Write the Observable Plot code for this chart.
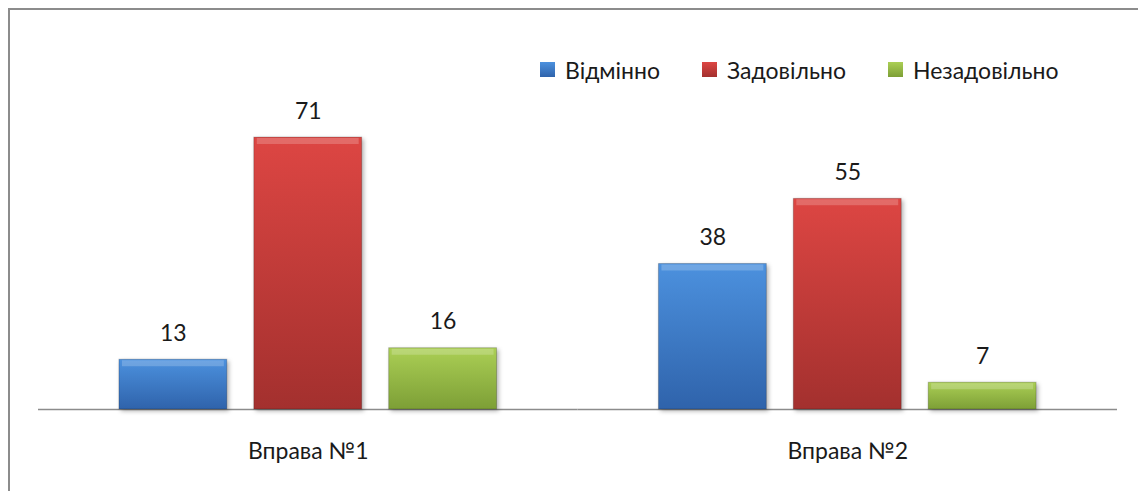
<!DOCTYPE html>
<html>
<head>
<meta charset="utf-8">
<script src="https://cdn.jsdelivr.net/npm/d3@7"></script>
<script src="https://cdn.jsdelivr.net/npm/@observablehq/plot@0.6"></script>
<style>
  html, body { margin: 0; padding: 0; background: #fff; overflow: hidden; }
  body { position: relative; width: 1138px; height: 491px; }
  #frame { position: absolute; left: 8px; top: 8px; width: 1300px; height: 700px; border: 2px solid #8c8c8c; box-sizing: border-box; }
  #chart { position: absolute; left: 0; top: 0; }
  #legend { position: absolute; left: 540px; top: 53px; }
  .lg-swatches { font-family: Lato, sans-serif !important; font-size: 23px !important; color: #1a1a1a !important; margin: 0 !important; }
  .lg-swatches-wrap .lg-swatch { margin-right: 42px !important; }
  .lg-swatch > svg { margin-right: 10px !important; }
  #chart g[aria-label="bar"] rect { filter: drop-shadow(2px 2px 2px rgba(0,0,0,0.3)); }
</style>
</head>
<body>
<svg width="0" height="0" style="position:absolute">
  <defs>
    <linearGradient id="gB" x1="0" y1="0" x2="0" y2="1">
      <stop offset="0" stop-color="#4c91de"/>
      <stop offset="1" stop-color="#2f63ab"/>
    </linearGradient>
    <linearGradient id="gR" x1="0" y1="0" x2="0" y2="1">
      <stop offset="0" stop-color="#dd4643"/>
      <stop offset="1" stop-color="#a3302e"/>
    </linearGradient>
    <linearGradient id="gG" x1="0" y1="0" x2="0" y2="1">
      <stop offset="0" stop-color="#abcf55"/>
      <stop offset="1" stop-color="#7d9f36"/>
    </linearGradient>
  </defs>
</svg>
<div id="frame"></div>
<div id="chart"></div>
<div id="legend"></div>
<script>
const exercises = ["Вправа №1", "Вправа №2"];
const grades = ["Відмінно", "Задовільно", "Незадовільно"];
const valuesEx1 = [13, 71, 16];
const valuesEx2 = [38, 55, 7];
const gradeFills = ["url(#gB)", "url(#gR)", "url(#gG)"];

const seriesValues = [valuesEx1, valuesEx2];
const data = exercises.flatMap((e, i) =>
  grades.map((g, j) => ({exercise: e, grade: g, value: seriesValues[i][j]}))
);

const chart = Plot.plot({
  width: 1138,
  height: 491,
  marginLeft: 38,
  marginRight: 21,
  marginTop: 102.6,
  marginBottom: 82,
  style: {fontFamily: "Lato, sans-serif", fontSize: "23px", color: "#1a1a1a", background: "transparent"},
  facet: {data, x: "exercise"},
  fx: {domain: exercises, paddingInner: 0, paddingOuter: 0, round: false, label: null, tickSize: 0, tickPadding: 33, axis: "bottom"},
  x: {domain: grades, paddingInner: 0.2, paddingOuter: 0.6, round: false, axis: null},
  y: {domain: [0, 80], axis: null},
  color: {domain: grades, range: gradeFills},
  marks: [
    Plot.ruleY([0], {stroke: "#8c8c8c", strokeWidth: 1.5}),
    Plot.barY(data, {x: "grade", y: "value", fill: "grade", stroke: "#000", strokeOpacity: 0.2}),
    Plot.tickY(data, {x: "grade", y: "value", stroke: "#fff", strokeOpacity: 0.2, strokeWidth: 6, dy: 3.5, inset: 3}),
    Plot.text(data, {x: "grade", y: "value", text: d => String(d.value), lineAnchor: "bottom", dy: -19, fill: "#1a1a1a"})
  ]
});
document.getElementById("chart").appendChild(chart);
document.getElementById("legend").appendChild(chart.legend("color", {className: "lg", swatchSize: 15}));
</script>
</body>
</html>
